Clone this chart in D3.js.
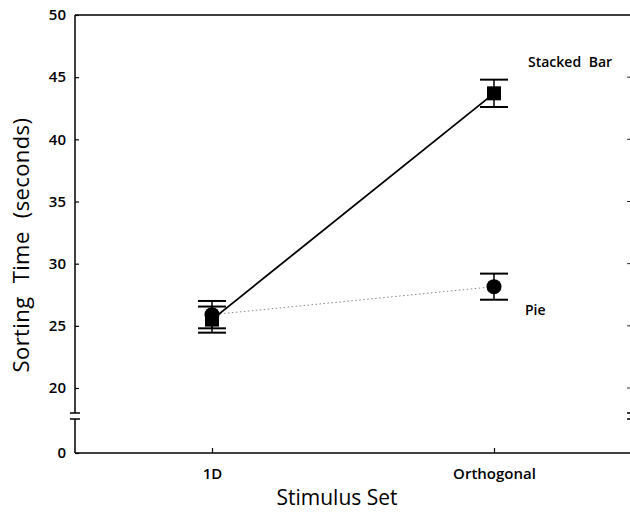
<!DOCTYPE html>
<html>
<head>
<meta charset="utf-8">
<script src="https://cdn.jsdelivr.net/npm/d3@7"></script>
<style>
  body { margin: 0; background: #fff; }
  svg text { font-family: "Open Sans", "DejaVu Sans", sans-serif; fill: #000; }
</style>
</head>
<body>
<svg id="chart" width="630" height="512"></svg>
<script>
var categories = ['1D', 'Orthogonal'];
var stackedMean = [25.5, 43.7];
var stackedErr = [1.05, 1.1];
var pieMean = [25.9, 28.15];
var pieErr = [1.1, 1.05];
var yTicks = [0, 20, 25, 30, 35, 40, 45, 50];

var svg = d3.select('#chart');

var x = d3.scalePoint().domain(categories).range([212, 494]);
// broken axis: 0 sits below a gap, 20..50 is the real range
var y = d3.scaleLinear().domain([0, 20, 50]).range([453, 388, 15]);

var axisX = 75, breakTop = 413, breakBot = 419;

// left axis ticks + labels
var ya = svg.append('g')
  .attr('transform', 'translate(' + axisX + ',0)')
  .call(d3.axisLeft(y).tickValues(yTicks).tickSizeInner(-4).tickSizeOuter(0).tickPadding(9));
ya.select('.domain').remove();
ya.selectAll('line').attr('stroke', '#000').attr('stroke-width', 1.2);
ya.selectAll('text').attr('fill', '#000').style('font-size', '15px').style('font-weight', 600);

// axis line with break
svg.append('path')
  .attr('d', 'M' + axisX + ',' + y(50) + 'V' + breakTop + 'M' + axisX + ',' + breakBot + 'V' + y(0))
  .attr('stroke', '#000').attr('stroke-width', 1.5).attr('fill', 'none');
[breakTop, breakBot].forEach(function(b) {
  svg.append('line').attr('x1', axisX - 5).attr('x2', axisX + 5).attr('y1', b).attr('y2', b)
    .attr('stroke', '#000').attr('stroke-width', 1.5);
});

// top frame line
svg.append('line').attr('x1', axisX).attr('x2', 630).attr('y1', y(50)).attr('y2', y(50))
  .attr('stroke', '#000').attr('stroke-width', 1.3);

// faint right-side ticks
svg.selectAll('.rtick').data(yTicks.filter(function(d) { return d > 0 && d < 50; }))
  .enter().append('line')
  .attr('x1', 627).attr('x2', 630).attr('y1', function(d) { return y(d); }).attr('y2', function(d) { return y(d); })
  .attr('stroke', '#333').attr('stroke-width', 1);
[breakTop, breakBot].forEach(function(b) {
  svg.append('line').attr('x1', 627).attr('x2', 630).attr('y1', b).attr('y2', b)
    .attr('stroke', '#000').attr('stroke-width', 1.5);
});

// bottom axis
var xa = svg.append('g')
  .attr('transform', 'translate(0,' + y(0) + ')')
  .call(d3.axisBottom(x).tickSizeInner(-5).tickSizeOuter(0).tickPadding(15));
xa.select('.domain').remove();
xa.selectAll('line').attr('stroke', '#000').attr('stroke-width', 1.2);
xa.selectAll('text').attr('fill', '#000').style('font-size', '15px').style('font-weight', 600);
svg.append('line').attr('x1', axisX).attr('x2', 630).attr('y1', y(0)).attr('y2', y(0))
  .attr('stroke', '#000').attr('stroke-width', 1.5);

// axis titles
svg.append('text')
  .attr('transform', 'translate(29,245) rotate(-90)')
  .attr('text-anchor', 'middle')
  .style('font-size', '22px').style('word-spacing', '7px').style('letter-spacing', '0.4px')
  .text('Sorting Time (seconds)');
svg.append('text')
  .attr('x', 337).attr('y', 505)
  .attr('text-anchor', 'middle')
  .style('font-size', '21px')
  .text('Stimulus Set');

var line = d3.line().x(function(d, i) { return x(categories[i]); }).y(function(d) { return y(d); });

// pie series line (dotted)
svg.append('path').datum(pieMean)
  .attr('d', line)
  .attr('fill', 'none').attr('stroke', '#888').attr('stroke-width', 1)
  .attr('stroke-dasharray', '1.5,2.5');

// stacked bar line
svg.append('path').datum(stackedMean)
  .attr('d', line)
  .attr('fill', 'none').attr('stroke', '#000').attr('stroke-width', 1.8);

function errorBars(means, errs) {
  var g = svg.append('g');
  means.forEach(function(m, i) {
    var cx = x(categories[i]);
    var hi = y(m + errs[i]), lo = y(m - errs[i]);
    g.append('line').attr('x1', cx).attr('x2', cx).attr('y1', hi).attr('y2', lo)
      .attr('stroke', '#000').attr('stroke-width', 1.5);
    [hi, lo].forEach(function(c) {
      g.append('line').attr('x1', cx - 14).attr('x2', cx + 14).attr('y1', c).attr('y2', c)
        .attr('stroke', '#000').attr('stroke-width', 2);
    });
  });
}

errorBars(stackedMean, stackedErr);
errorBars(pieMean, pieErr);

// markers
svg.selectAll('.sq').data(stackedMean).enter().append('rect')
  .attr('x', function(d, i) { return x(categories[i]) - 7; })
  .attr('y', function(d) { return y(d) - 7; })
  .attr('width', 14).attr('height', 14)
  .attr('fill', '#000');

svg.selectAll('.ci').data(pieMean).enter().append('circle')
  .attr('cx', function(d, i) { return x(categories[i]); })
  .attr('cy', function(d) { return y(d); })
  .attr('r', 7.5)
  .attr('fill', '#000');

// series labels
svg.append('text').attr('x', 528).attr('y', 67)
  .style('font-size', '14px').style('font-weight', 600).style('word-spacing', '4px')
  .text('Stacked Bar');
svg.append('text').attr('x', 525).attr('y', 315)
  .style('font-size', '14px').style('font-weight', 600)
  .text('Pie');
</script>
</body>
</html>
